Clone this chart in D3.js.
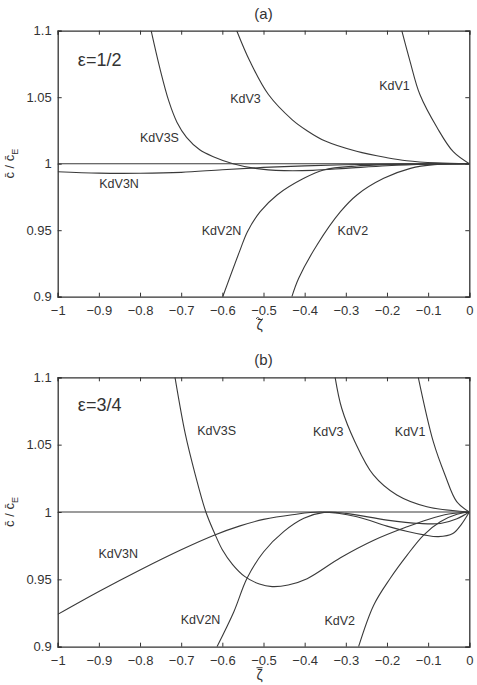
<!DOCTYPE html>
<html>
<head>
<meta charset="utf-8">
<script src="https://cdn.jsdelivr.net/npm/d3@7"></script>
<style>
  body { margin: 0; background: #fff; }
  svg { font-family: "Liberation Sans", Arial, sans-serif; }
  .curve { fill: none; stroke: #3a3a3a; stroke-width: 1.1; }
  .tick_lbl { font-size: 13px; fill: #333; }
  .curve_lbl { font-size: 12.5px; fill: #333; }
</style>
</head>
<body>
<svg id="main_chart" width="477" height="685"></svg>
<script>
// x ticks shared by both panels
const zeta_ticks = [-1, -0.9, -0.8, -0.7, -0.6, -0.5, -0.4, -0.3, -0.2, -0.1, 0];
const ratio_ticks = [0.9, 0.95, 1, 1.05, 1.1];
const ratio_tick_labels = ['0.9', '0.95', '1', '1.05', '1.1'];

// PANEL (a), epsilon = 1/2
const a_ref = [[-1, 1], [0, 1]];
const a_kdv1 = [[-0.164, 1.1], [-0.144, 1.077], [-0.12, 1.052], [-0.078, 1.027], [-0.039, 1.009], [0, 1]];
const a_kdv3 = [[-0.565, 1.1], [-0.533, 1.077], [-0.488, 1.052], [-0.43, 1.033], [-0.395, 1.025], [-0.35, 1.017],
  [-0.274, 1.0093], [-0.2, 1.0045], [-0.152, 1.0022], [-0.08, 1.0006], [0, 1]];
const a_kdv3s = [[-0.773, 1.1], [-0.752, 1.072], [-0.73, 1.047], [-0.71, 1.031], [-0.687, 1.0198], [-0.655, 1.0105],
  [-0.622, 1.0053], [-0.574, 1.0], [-0.52, 0.9965], [-0.45, 0.9948], [-0.38, 0.995], [-0.3, 0.9965],
  [-0.2, 0.9985], [-0.1, 0.9996], [0, 1]];
const a_kdv3n = [[-1, 0.994], [-0.9, 0.9929], [-0.8, 0.9928], [-0.7, 0.9935], [-0.6, 0.9955], [-0.5, 0.9972],
  [-0.4, 0.9984], [-0.3, 0.9992], [-0.2, 0.9997], [0, 1]];
const a_kdv2n = [[-0.599, 0.9], [-0.557, 0.935], [-0.539, 0.9489], [-0.508, 0.9639], [-0.467, 0.9765], [-0.402, 0.989],
  [-0.354, 0.9953], [-0.273, 0.9983], [-0.15, 0.9996], [0, 1]];
const a_kdv2 = [[-0.431, 0.9], [-0.4145, 0.9138], [-0.37, 0.9389], [-0.313, 0.9639], [-0.273, 0.9765], [-0.208, 0.989],
  [-0.143, 0.9965], [-0.085, 0.9993], [0, 1]];

// PANEL (b), epsilon = 3/4
const b_ref = [[-1, 1], [0, 1]];
const b_kdv1 = [[-0.124, 1.1], [-0.0875, 1.0522], [-0.059, 1.0275], [-0.0306, 1.0077], [0, 1]];
const b_kdv3 = [[-0.326, 1.1], [-0.31, 1.077], [-0.278, 1.0522], [-0.233, 1.0275], [-0.176, 1.0126], [-0.103, 1.0039], [0, 1]];
const b_kdv3s = [[-0.715, 1.1], [-0.69, 1.058], [-0.666, 1.028], [-0.64, 1.0], [-0.62, 0.985], [-0.6, 0.972],
  [-0.575, 0.961], [-0.545, 0.952], [-0.51, 0.9465], [-0.479, 0.9446], [-0.44, 0.9458], [-0.394, 0.9505],
  [-0.313, 0.966], [-0.232, 0.979], [-0.151, 0.989], [-0.1, 0.9945], [-0.05, 0.9985], [0, 1]];
const b_kdv3n = [[-1, 0.924], [-0.9, 0.941], [-0.8, 0.957], [-0.7, 0.972], [-0.62, 0.9828], [-0.557, 0.9897],
  [-0.5, 0.9945], [-0.43, 0.998], [-0.36, 1.0], [-0.273, 0.9965], [-0.2, 0.9895], [-0.15, 0.9855], [-0.11, 0.983],
  [-0.075, 0.9817], [-0.04, 0.984], [-0.02, 0.9905], [0, 1]];
const b_kdv2n = [[-0.613, 0.9], [-0.572, 0.926], [-0.54, 0.9508], [-0.4995, 0.9705], [-0.451, 0.9854], [-0.402, 0.9953],
  [-0.353, 0.9997], [-0.3, 0.999], [-0.2, 0.994], [-0.12, 0.9915], [-0.07, 0.9915], [-0.03, 0.995], [0, 1]];
const b_kdv2 = [[-0.269, 0.9], [-0.232, 0.931], [-0.192, 0.9508], [-0.151, 0.968], [-0.111, 0.9829], [-0.0705, 0.9928],
  [-0.03, 0.9983], [0, 1]];

const svg = d3.select('#main_chart');

function buildPanel(cfg) {
  const x = d3.scaleLinear().domain([-1, 0]).range([57.7, 469.3]);
  const y = d3.scaleLinear().domain([0.9, 1.1]).range([cfg.bottom, cfg.top]);
  const g = svg.append('g');

  // CLIP CURVES TO PLOT BOX
  g.append('clipPath').attr('id', 'clip_' + cfg.id)
    .append('rect').attr('x', x(-1)).attr('y', y(1.1))
    .attr('width', x(0) - x(-1)).attr('height', y(0.9) - y(1.1));

  const line = d3.line()
    .x(d => x(d[0]))
    .y(d => y(d[1]))
    .curve(d3.curveCatmullRom.alpha(0.5));

  const curves = g.append('g').attr('clip-path', `url(#clip_${cfg.id})`);
  cfg.series.forEach(s => {
    curves.append('path').attr('class', 'curve').attr('d', line(s));
  });

  // AXES, TICKS INSIDE ON ALL FOUR SIDES
  const xb = g.append('g').attr('transform', `translate(0,${y(0.9)})`)
    .call(d3.axisBottom(x).tickValues(zeta_ticks).tickSize(-4).tickPadding(9)
      .tickFormat(d => d === 0 ? '0' : '\u2212' + String(Math.abs(d))));
  const xt = g.append('g').attr('transform', `translate(0,${y(1.1)})`)
    .call(d3.axisTop(x).tickValues(zeta_ticks).tickSize(-4).tickFormat(''));
  const yl = g.append('g').attr('transform', `translate(${x(-1)},0)`)
    .call(d3.axisLeft(y).tickValues(ratio_ticks).tickSize(-4).tickPadding(6).tickFormat((d, i) => ratio_tick_labels[i]));
  const yr = g.append('g').attr('transform', `translate(${x(0)},0)`)
    .call(d3.axisRight(y).tickValues(ratio_ticks).tickSize(-4).tickFormat(''));
  [xb, xt, yl, yr].forEach(a => {
    a.select('.domain').attr('stroke', '#333').attr('stroke-width', 1.3);
    a.selectAll('.tick line').attr('stroke', '#333');
    a.selectAll('.tick text').attr('class', 'tick_lbl').attr('fill', '#333');
  });

  // TITLE
  g.append('text').attr('x', (x(-1) + x(0)) / 2).attr('y', cfg.top - 12)
    .attr('text-anchor', 'middle').attr('font-size', 15).attr('fill', '#333').text(cfg.title);

  // EPSILON LABEL
  g.append('text').attr('x', x(-0.951)).attr('y', y(cfg.eps_v))
    .attr('font-size', 18).attr('fill', '#333').text(cfg.eps);

  // CURVE LABELS
  cfg.labels.forEach(l => {
    g.append('text').attr('class', 'curve_lbl').attr('x', x(l[1])).attr('y', y(l[2])).text(l[0]);
  });

  // X LABEL: zeta, with its accent drawn as a small stroke above
  const xl = x(-0.5) - 4;
  const xly = y(0.9) + 33;
  g.append('text').attr('x', xl).attr('y', xly).attr('text-anchor', 'middle')
    .attr('font-size', 14).attr('fill', '#333').text('\u03b6');
  const acc_y = xly - 12;
  const acc = cfg.accent === 'tilde'
    ? `M${xl - 3.5},${acc_y + 1} q1.75,-2.5 3.5,0 t3.5,0`
    : `M${xl - 3},${acc_y} h6`;
  g.append('path').attr('d', acc).attr('fill', 'none').attr('stroke', '#333').attr('stroke-width', 1);

  // Y LABEL
  const yc = (y(0.9) + y(1.1)) / 2;
  const ylab = g.append('text').attr('transform', `translate(14,${yc}) rotate(-90)`)
    .attr('text-anchor', 'middle').attr('font-size', 13).attr('fill', '#333');
  ylab.append('tspan').text('c\u0304 / c\u0304');
  ylab.append('tspan').attr('font-size', 9).attr('dy', 4).text('E');
}

buildPanel({
  id: 'a', title: '(a)', top: 30.7, bottom: 296.7, eps: '\u03b5=1/2', eps_v: 1.0735, accent: 'tilde',
  series: [a_ref, a_kdv1, a_kdv3, a_kdv3s, a_kdv3n, a_kdv2n, a_kdv2],
  labels: [['KdV1', -0.219, 1.0554], ['KdV3', -0.581, 1.0456], ['KdV3S', -0.8, 1.0163],
    ['KdV3N', -0.899, 0.9814], ['KdV2N', -0.65, 0.9464], ['KdV2', -0.32, 0.9464]]
});

buildPanel({
  id: 'b', title: '(b)', top: 377.3, bottom: 646.7, eps: '\u03b5=3/4', eps_v: 1.075, accent: 'bar',
  series: [b_ref, b_kdv1, b_kdv3, b_kdv3s, b_kdv3n, b_kdv2n, b_kdv2],
  labels: [['KdV3S', -0.661, 1.0572], ['KdV3', -0.38, 1.0564], ['KdV1', -0.181, 1.0564],
    ['KdV3N', -0.901, 0.9659], ['KdV2N', -0.701, 0.9165], ['KdV2', -0.352, 0.9161]]
});
</script>
</body>
</html>
